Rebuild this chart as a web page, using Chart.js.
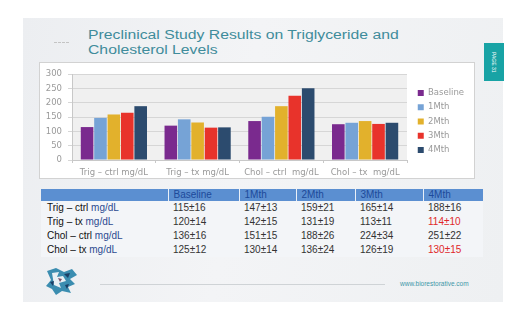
<!DOCTYPE html>
<html>
<head>
<meta charset="utf-8">
<script src="https://cdn.jsdelivr.net/npm/chart.js@4.4.0/dist/chart.umd.min.js"></script>
<style>
  html, body { margin: 0; padding: 0; width: 528px; height: 321px; background: #fff; overflow: hidden; font-family: "Liberation Sans", Arial, sans-serif; }
  .abs { position: absolute; }
  #slide { left: 23px; top: 18px; width: 480px; height: 284px; background: linear-gradient(100deg, #eceef1 0%, #f3f4f6 45%, #eef0f2 100%); }
  #dots { left: 54px; top: 42px; width: 15px; border-top: 1px dashed #c4c4c4; }
  #title { left: 88px; top: 28px; font-size: 12.5px; line-height: 14.7px; color: #3f8c9b; white-space: nowrap; transform: scaleX(1.26); transform-origin: 0 0; }
  #tab { left: 484px; top: 43px; width: 20px; height: 38px; background: #18a3a5; color: #fff; font-size: 5px; writing-mode: vertical-rl; text-align: center; line-height: 20px; }
  #chartBox { left: 39px; top: 62px; width: 434px; height: 115px; border: 1px solid #d2d2d2; background: #fff; }
  #chartBox canvas { display: block; }
  #tbl { left: 41px; top: 189px; border-collapse: collapse; table-layout: fixed; font-size: 10px; }
  #tbl th { height: 12px; padding: 0 0 0 5px; background: #5b8fd1; color: #1d4a9a; font-weight: normal; text-align: left; border-left: 1px solid #eaf0f8; line-height: 12px; }
  #tbl th:first-child { border-left: none; }
  #tbl td { height: 14px; padding: 0 0 0 5px; color: #333; line-height: 14px; background: #f3f5f8; white-space: nowrap; }
  #tbl td.lab { color: #111; padding-left: 6px; }
  #tbl td.lab span { color: #2c4a90; }
  #tbl td.red { color: #e0282a; }
  #rule { left: 100px; top: 284px; width: 285px; height: 1px; background: #cfd3d6; }
  #url { left: 400px; top: 280px; font-size: 6.5px; color: #3d97a8; white-space: nowrap; }
  #logo { left: 44px; top: 265px; }
</style>
</head>
<body>
<div id="slide" class="abs"></div>
<div id="dots" class="abs"></div>
<div id="title" class="abs">Preclinical Study Results on Triglyceride and<br>Cholesterol Levels</div>
<div id="tab" class="abs">PAGE 31</div>
<div id="chartBox" class="abs"><canvas id="chart" width="434" height="115"></canvas></div>
<table id="tbl" class="abs">
  <colgroup><col style="width:127px"><col style="width:71px"><col style="width:57px"><col style="width:59px"><col style="width:68px"><col style="width:60px"></colgroup>
  <thead><tr id="head"></tr></thead>
  <tbody id="body"></tbody>
</table>
<svg id="logo" class="abs" width="36" height="32" viewBox="0 0 36 32">
  <path d="M3 6 L12 3 L20 7 L28 4 L33 10 L26 14 L31 19 L24 22 L27 28 L18 26 L12 30 L8 24 L2 21 L7 15 Z" fill="#3b8db0"/>
  <path d="M8 8 L15 7 L13 12 L19 11 L22 16 L15 18 L17 23 L10 20 Z" fill="#e8f0f4"/>
  <path d="M20 9 L26 8 L24 13 Z M6 17 L10 16 L9 21 Z M21 20 L25 19 L23 24 Z" fill="#1b3f66"/>
  <path d="M14 13 L18 14 L16 17 Z" fill="#7a4f6a"/>
</svg>
<div id="rule" class="abs"></div>
<div id="url" class="abs">www.biorestorative.com</div>

<script>
const categories = ["Trig \u2013 ctrl mg/dL", "Trig \u2013 tx mg/dL", "Chol \u2013 ctrl  mg/dL", "Chol \u2013 tx  mg/dL"];
const rowLabels = [["Trig \u2013 ctrl", "mg/dL"], ["Trig \u2013 tx", "mg/dL"], ["Chol \u2013 ctrl ", "mg/dL"], ["Chol \u2013 tx ", "mg/dL"]];
const seriesNames = ["Baseline", "1Mth", "2Mth", "3Mth", "4Mth"];
const colors = ["#7a2a8e", "#76a3d6", "#e2b12c", "#e8332b", "#2c4b6e"];

// means per series (one value per category)
const baseline = [115, 120, 136, 125];
const mth1 = [147, 142, 151, 130];
const mth2 = [159, 131, 188, 136];
const mth3 = [165, 113, 224, 126];
const mth4 = [188, 114, 251, 130];

// standard deviations
const sdBaseline = [16, 14, 16, 12];
const sdMth1 = [13, 15, 15, 14];
const sdMth2 = [21, 19, 26, 24];
const sdMth3 = [14, 11, 34, 19];
const sdMth4 = [16, 10, 22, 15];

const redCells4Mth = [false, true, false, true];
const yTicks = [0, 50, 100, 150, 200, 250, 300];

const means = [baseline, mth1, mth2, mth3, mth4];
const sds = [sdBaseline, sdMth1, sdMth2, sdMth3, sdMth4];

// table
const head = document.getElementById("head");
head.innerHTML = "<th></th>" + seriesNames.map(n => "<th>" + n + "</th>").join("");
const body = document.getElementById("body");
rowLabels.forEach(function (lab, r) {
  let html = '<td class="lab">' + lab[0] + ' <span>' + lab[1] + '</span></td>';
  means.forEach(function (m, s) {
    const red = s === 4 && redCells4Mth[r];
    html += '<td' + (red ? ' class="red"' : '') + '>' + m[r] + '\u00b1' + sds[s][r] + '</td>';
  });
  const tr = document.createElement("tr");
  tr.innerHTML = html;
  body.appendChild(tr);
});

// chart
const plotBg = {
  id: "plotBg",
  beforeDraw(chart) {
    const a = chart.chartArea;
    chart.ctx.save();
    chart.ctx.fillStyle = "#f0f0f0";
    chart.ctx.fillRect(a.left, a.top, a.right - a.left, a.bottom - a.top);
    chart.ctx.restore();
  }
};
const legendFit = {
  id: "legendFit",
  beforeInit(chart) {
    const fit = chart.legend.fit;
    chart.legend.fit = function () {
      fit.call(this);
      this.width = 67;
    };
  },
  afterLayout(chart) {
    chart.legend.left += 5;
    chart.legend.top -= 3;
    chart.legend.bottom -= 3;
  }
};

const tickFont = { family: "DejaVu Sans", size: 8.5 };

new Chart(document.getElementById("chart"), {
  type: "bar",
  data: {
    labels: categories,
    datasets: seriesNames.map(function (name, i) {
      return {
        label: name,
        data: means[i],
        backgroundColor: colors[i],
        borderWidth: 0,
        barPercentage: 0.94,
        categoryPercentage: 0.8
      };
    })
  },
  options: {
    responsive: false,
    animation: false,
    devicePixelRatio: 1,
    layout: { padding: { top: 8, left: 0, right: 0, bottom: 0 } },
    plugins: {
      tooltip: { enabled: false },
      legend: {
        position: "right",
        labels: {
          boxWidth: 6,
          boxHeight: 6,
          padding: 5.75,
          color: "#9a9a9a",
          font: tickFont
        }
      }
    },
    scales: {
      x: {
        afterFit(s) { s.height = 18; },
        grid: { display: true, drawOnChartArea: false, offset: true, tickLength: 3, color: "#c8c8c8" },
        border: { color: "#c8c8c8" },
        ticks: { color: "#9a9a9a", font: tickFont, padding: 5, maxRotation: 0, autoSkip: false }
      },
      y: {
        min: 0,
        max: 300,
        afterFit(s) { s.width = 32; },
        afterBuildTicks(s) { s.ticks = yTicks.map(v => ({ value: v })); },
        grid: { color: "#d6d6d6", tickLength: 4 },
        border: { color: "#c8c8c8" },
        ticks: { color: "#9a9a9a", font: tickFont, padding: 6 }
      }
    }
  },
  plugins: [plotBg, legendFit]
});
</script>
</body>
</html>
